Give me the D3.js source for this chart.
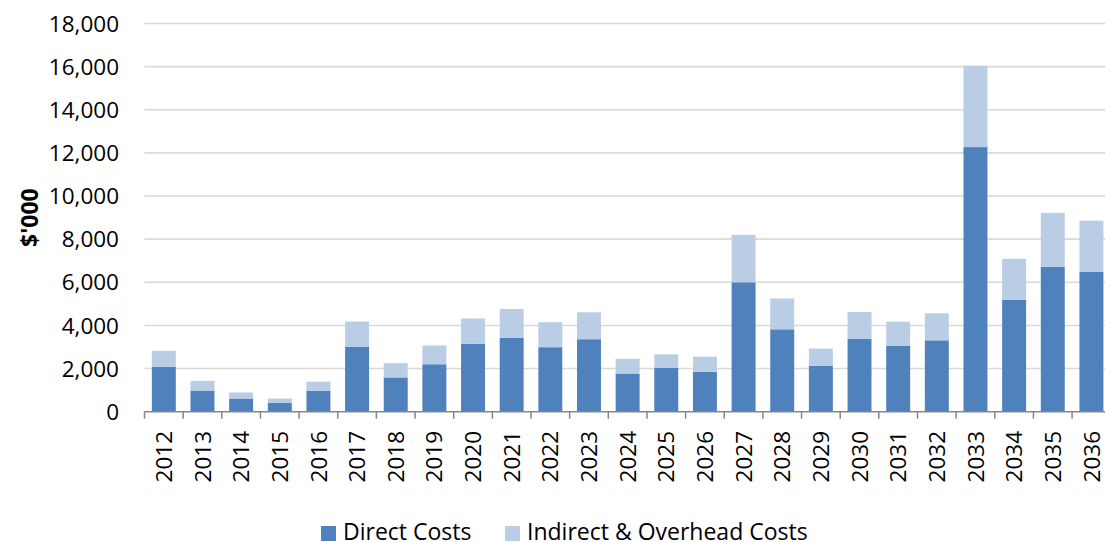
<!DOCTYPE html>
<html>
<head>
<meta charset="utf-8">
<script src="https://cdn.jsdelivr.net/npm/d3@7"></script>
<style>
  body { margin: 0; background: #fff; }
  svg { display: block; font-family: "Open Sans", sans-serif; }
</style>
</head>
<body>
<div id="chart"></div>
<script>
const years = ['2012', '2013', '2014', '2015', '2016', '2017', '2018', '2019', '2020', '2021',
    '2022', '2023', '2024', '2025', '2026', '2027', '2028', '2029', '2030', '2031',
    '2032', '2033', '2034', '2035', '2036'];
// $'000
const directCosts = [2080, 980, 610, 420, 970, 3000, 1590, 2200, 3150, 3430,
    2990, 3360, 1770, 2040, 1850, 6000, 3820, 2130, 3370, 3060,
    3310, 12270, 5190, 6720, 6480];
const indirectCosts = [740, 450, 280, 190, 420, 1180, 660, 870, 1170, 1330,
    1160, 1250, 680, 620, 700, 2200, 1430, 800, 1250, 1110,
    1250, 3770, 1900, 2500, 2380];
const yTicks = [0, 2000, 4000, 6000, 8000, 10000, 12000, 14000, 16000, 18000];
const seriesNames = ['Direct Costs', 'Indirect & Overhead Costs'];
const seriesColors = ['#4F81BD', '#B9CDE5'];

const W = 1105, H = 542;
const svg = d3.select('#chart').append('svg')
    .attr('width', W)
    .attr('height', H);

const x = d3.scaleBand()
    .domain(years)
    .range([144.5, 1110.75])
    .paddingInner(0.38)
    .paddingOuter(0.19);

const y = d3.scaleLinear()
    .domain([0, 18000])
    .range([411.7, 23.5]);

// gridlines
svg.append('g')
    .selectAll('line')
    .data(yTicks.filter(d => d > 0))
    .join('line')
    .attr('x1', 144.5)
    .attr('x2', W)
    .attr('y1', d => y(d))
    .attr('y2', d => y(d))
    .attr('stroke', '#d9d9d9')
    .attr('stroke-width', 1.6);

// y labels
svg.append('g')
    .selectAll('text')
    .data(yTicks)
    .join('text')
    .attr('x', 119)
    .attr('y', d => y(d))
    .attr('dy', '0.36em')
    .attr('text-anchor', 'end')
    .attr('font-size', 22.5)
    .attr('fill', '#000')
    .text(d => d3.format(',')(d));

svg.append('text')
    .attr('transform', `translate(38,${y(9000)}) rotate(-90)`)
    .attr('text-anchor', 'middle')
    .attr('font-size', 23)
    .attr('font-weight', 'bold')
    .text("$'000");

// stacked bars
const rows = years.map((yr, i) => ({ year: yr, direct: directCosts[i], indirect: indirectCosts[i] }));
const stack = d3.stack().keys(['direct', 'indirect'])(rows);

svg.append('g')
    .selectAll('g')
    .data(stack)
    .join('g')
    .attr('fill', (d, i) => seriesColors[i])
    .selectAll('rect')
    .data(d => d)
    .join('rect')
    .attr('x', d => x(d.data.year))
    .attr('width', x.bandwidth())
    .attr('y', d => y(d[1]))
    .attr('height', d => y(d[0]) - y(d[1]));

// x axis
const step = x.step();
const axisG = svg.append('g').attr('stroke', '#868686').attr('stroke-width', 1.5);
axisG.append('line')
    .attr('x1', 144.5)
    .attr('x2', W)
    .attr('y1', y(0))
    .attr('y2', y(0));
axisG.selectAll('line.tick')
    .data(d3.range(years.length + 1))
    .join('line')
    .attr('class', 'tick')
    .attr('x1', i => 144.5 + i * step)
    .attr('x2', i => 144.5 + i * step)
    .attr('y1', y(0))
    .attr('y2', y(0) + 7);

svg.append('g')
    .selectAll('text')
    .data(years)
    .join('text')
    .attr('transform', d => `translate(${x(d) + x.bandwidth() / 2},431) rotate(-90)`)
    .attr('dy', '0.36em')
    .attr('text-anchor', 'end')
    .attr('font-size', 22.5)
    .attr('fill', '#000')
    .text(d => d);

// legend
const legend = svg.append('g');
const legendX = [321, 505];
seriesNames.forEach((name, i) => {
    legend.append('rect')
        .attr('x', legendX[i])
        .attr('y', 526)
        .attr('width', 15)
        .attr('height', 15)
        .attr('fill', seriesColors[i]);
    legend.append('text')
        .attr('x', legendX[i] + 22)
        .attr('y', 532)
        .attr('dy', '0.36em')
        .attr('font-size', 23)
        .attr('fill', '#000')
        .text(name);
});
</script>
</body>
</html>
